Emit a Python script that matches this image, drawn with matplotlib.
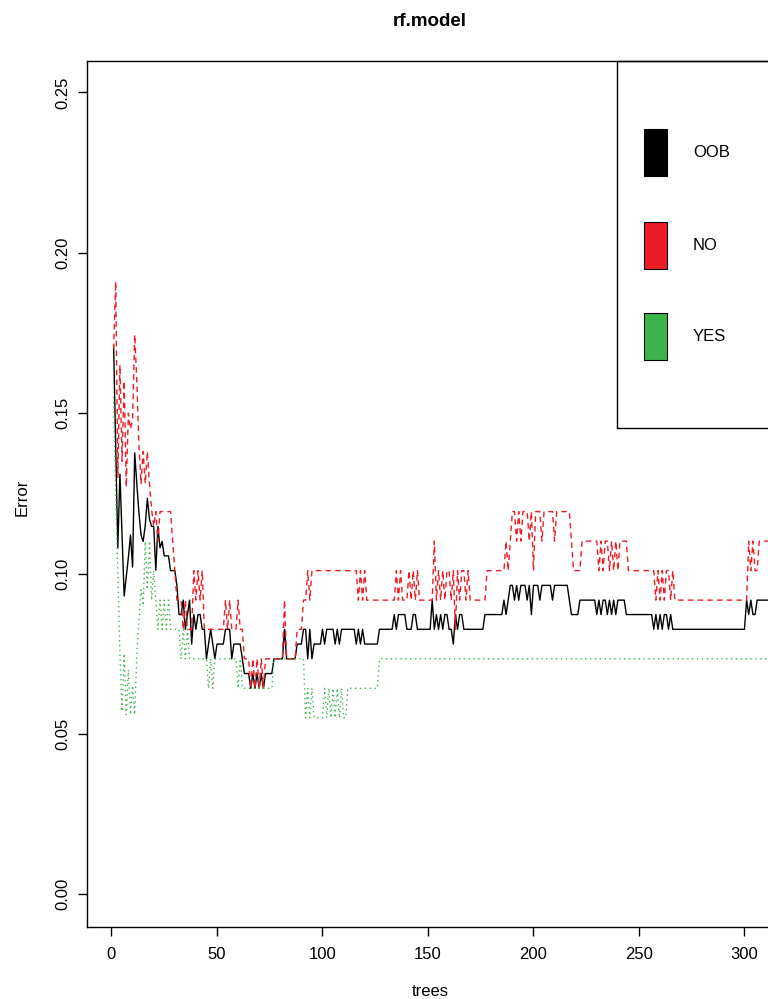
import numpy as np
import matplotlib
matplotlib.use("Agg")
import matplotlib.pyplot as plt
from matplotlib.patches import Rectangle

plt.rcParams['font.family'] = ['Liberation Sans', 'DejaVu Sans']

# error rates, as (value, number of trees) runs
oob_runs = [
    (0.171, 1), (0.140, 1), (0.108, 1), (0.131, 1), (0.112, 1), (0.093, 1),
    (0.099, 1), (0.105, 1), (0.112, 1), (0.102, 1), (0.1376, 1), (0.128, 1),
    (0.119, 1), (0.112, 1), (0.110, 1), (0.115, 1), (0.1235, 1), (0.117, 1),
    (0.1147, 2), (0.101, 1), (0.1147, 1), (0.108, 1), (0.110, 1), (0.1055, 3),
    (0.1009, 3), (0.0963, 1), (0.0872, 2), (0.0917, 1), (0.0826, 1), (0.0872, 1),
    (0.0917, 1), (0.0780, 1), (0.0872, 1), (0.0826, 1), (0.0872, 2), (0.0826, 2),
    (0.0734, 1), (0.0780, 1), (0.0826, 1), (0.0780, 1), (0.0734, 1), (0.0780, 4),
    (0.0826, 3), (0.0734, 1), (0.0780, 4), (0.0734, 1), (0.0688, 3), (0.0642, 1),
    (0.0688, 1), (0.0642, 1), (0.0688, 1), (0.0642, 1), (0.0688, 1), (0.0642, 1),
    (0.0688, 4), (0.0734, 5), (0.0826, 1), (0.0734, 5), (0.0780, 3), (0.0826, 2),
    (0.0734, 1), (0.0826, 1), (0.0734, 1), (0.0780, 4), (0.0826, 1), (0.0780, 1),
    (0.0826, 4), (0.0780, 1), (0.0826, 1), (0.0780, 1), (0.0826, 7), (0.0780, 1),
    (0.0826, 1), (0.0780, 1), (0.0826, 1), (0.0780, 7), (0.0826, 7), (0.0872, 1),
    (0.0826, 1), (0.0872, 4), (0.0826, 3), (0.0872, 2), (0.0826, 7), (0.0917, 1),
    (0.0826, 1), (0.0872, 1), (0.0826, 1), (0.0872, 1), (0.0826, 1), (0.0872, 2),
    (0.0826, 2), (0.0780, 1), (0.0872, 1), (0.0826, 1), (0.0872, 2), (0.0826, 10),
    (0.0872, 9), (0.0917, 1), (0.0872, 1), (0.0917, 1), (0.0963, 2), (0.0917, 1),
    (0.0963, 1), (0.0917, 1), (0.0963, 3), (0.0917, 1), (0.0963, 1), (0.0872, 1),
    (0.0963, 3), (0.0917, 1), (0.0963, 5), (0.0917, 1), (0.0963, 7), (0.0917, 1),
    (0.0872, 4), (0.0917, 8), (0.0872, 1), (0.0917, 1), (0.0872, 1), (0.0917, 2),
    (0.0872, 1), (0.0917, 1), (0.0872, 1), (0.0917, 1), (0.0872, 1), (0.0917, 4),
    (0.0872, 13), (0.0826, 1), (0.0872, 1), (0.0826, 1), (0.0872, 1), (0.0826, 1),
    (0.0872, 2), (0.0826, 1), (0.0872, 1), (0.0826, 35), (0.0917, 1), (0.0872, 1),
    (0.0917, 1), (0.0872, 2), (0.0917, 7),
]

no_runs = [
    (0.170, 1), (0.191, 1), (0.130, 1), (0.165, 1), (0.135, 1), (0.160, 1),
    (0.127, 1), (0.150, 1), (0.145, 1), (0.148, 1), (0.1745, 1), (0.160, 1),
    (0.140, 1), (0.128, 1), (0.138, 1), (0.128, 1), (0.138, 1), (0.128, 1),
    (0.120, 1), (0.1147, 1), (0.1193, 1), (0.1101, 1), (0.1193, 6), (0.1101, 1),
    (0.1009, 1), (0.0917, 3), (0.0826, 1), (0.0917, 1), (0.0826, 3), (0.1009, 1),
    (0.0917, 1), (0.1009, 1), (0.0917, 1), (0.1009, 1), (0.0826, 10), (0.0917, 1),
    (0.0826, 1), (0.0917, 1), (0.0826, 3), (0.0917, 1), (0.0826, 1), (0.0826, 1),
    (0.0734, 3), (0.0642, 1), (0.0734, 1), (0.0642, 1), (0.0734, 1), (0.0642, 1),
    (0.0734, 1), (0.0642, 1), (0.0734, 9), (0.0917, 1), (0.0734, 5), (0.0826, 3),
    (0.0917, 2), (0.1009, 1), (0.0917, 1), (0.1009, 22), (0.0917, 1), (0.1009, 1),
    (0.0917, 1), (0.1009, 1), (0.0917, 7), (0.0917, 7), (0.1009, 1), (0.0917, 1),
    (0.1009, 1), (0.0917, 3), (0.1009, 1), (0.0917, 1), (0.1009, 1), (0.0917, 1),
    (0.1009, 1), (0.0917, 7), (0.1101, 1), (0.0917, 1), (0.1009, 1), (0.0917, 1),
    (0.1009, 1), (0.0917, 1), (0.1009, 2), (0.0917, 1), (0.1009, 1), (0.0826, 1),
    (0.1009, 1), (0.0917, 1), (0.1009, 2), (0.0917, 1), (0.1009, 1), (0.0917, 8),
    (0.1009, 9), (0.1101, 1), (0.1009, 1), (0.1101, 1), (0.1193, 2), (0.1101, 1),
    (0.1193, 1), (0.1101, 1), (0.1193, 3), (0.1101, 1), (0.1193, 1), (0.1009, 1),
    (0.1193, 3), (0.1101, 1), (0.1193, 5), (0.1101, 1), (0.1193, 7), (0.1101, 1),
    (0.1009, 4), (0.1101, 8), (0.1009, 1), (0.1101, 1), (0.1009, 1), (0.1101, 2),
    (0.1009, 1), (0.1101, 1), (0.1009, 1), (0.1101, 1), (0.1009, 1), (0.1101, 4),
    (0.1009, 13), (0.0917, 1), (0.1009, 1), (0.0917, 1), (0.1009, 1), (0.0917, 1),
    (0.1009, 2), (0.0917, 1), (0.1009, 1), (0.0917, 35), (0.1101, 1), (0.1009, 1),
    (0.1101, 1), (0.1009, 2), (0.1101, 7),
]

yes_runs = [
    (0.155, 1), (0.125, 1), (0.100, 1), (0.075, 1), (0.057, 1), (0.075, 1),
    (0.056, 1), (0.070, 1), (0.056, 1), (0.065, 1), (0.056, 1), (0.075, 1),
    (0.085, 1), (0.095, 1), (0.090, 1), (0.110, 1), (0.095, 1), (0.1101, 1),
    (0.0917, 1), (0.1009, 1), (0.0917, 1), (0.0826, 1), (0.0917, 1), (0.0826, 1),
    (0.0917, 1), (0.0826, 1), (0.0917, 1), (0.0826, 5), (0.0734, 1), (0.0826, 1),
    (0.0734, 1), (0.0826, 1), (0.0734, 9), (0.0642, 1), (0.0734, 1), (0.0642, 1),
    (0.0734, 11), (0.0642, 1), (0.0734, 1), (0.0642, 15), (0.0734, 15), (0.0550, 1),
    (0.0642, 1), (0.0550, 1), (0.0642, 1), (0.0550, 5), (0.0642, 1), (0.0550, 1),
    (0.0642, 1), (0.0550, 1), (0.0642, 1), (0.0550, 1), (0.0642, 1), (0.0550, 1),
    (0.0642, 1), (0.0550, 2), (0.0642, 15), (0.0734, 186),
]

series_names = ['OOB', 'NO', 'YES']
series_colors = ['black', '#EE1C25', '#3CB44B']


def expand(runs):
    vals = [v for v, n in runs]
    counts = [n for v, n in runs]
    return np.repeat(vals, counts)


oob = expand(oob_runs)
no = expand(no_runs)
yes = expand(yes_runs)

W, H = 768, 999
fig = plt.figure(figsize=(W / 100, H / 100), dpi=100)
# plot region runs past the right border, as in the cropped original
ax = fig.add_axes([86.7 / W, (H - 926.7) / H, (900 - 86.7) / W, (926.7 - 60.7) / H])

ax.plot(np.arange(1, len(oob) + 1), oob, color=series_colors[0], lw=1.0)
ax.plot(np.arange(1, len(no) + 1), no, color=series_colors[1], lw=1.0,
        dashes=(4, 3))
ax.plot(np.arange(1, len(yes) + 1), yes, color=series_colors[2], lw=1.0,
        dashes=(1, 2.5))

ax.set_xlim(-11.75, 373.7)
ax.set_ylim(-0.01013, 0.2599)
ax.set_xticks([0, 50, 100, 150, 200, 250, 300])
ax.set_yticks([0.0, 0.05, 0.10, 0.15, 0.20, 0.25])
ax.set_yticklabels(['0.00', '0.05', '0.10', '0.15', '0.20', '0.25'],
                   rotation=90, va='center')
ax.tick_params(direction='out', length=6.5, width=1.0, labelsize=12)
ax.tick_params(axis='x', pad=8)
ax.tick_params(axis='y', pad=5)
for s in ax.spines.values():
    s.set_linewidth(1.0)

fig.text(430 / W, 1 - 22 / H, 'rf.model', ha='center', va='center',
         fontsize=13.5, fontweight='bold')
fig.text(430 / W, 1 - 991 / H, 'trees', ha='center', va='center', fontsize=12)
fig.text(22 / W, 1 - 497 / H, 'Error', ha='center', va='center', fontsize=12,
         rotation=90)

# legend box in the top right corner
fig.add_artist(Rectangle((617 / W, 1 - 428 / H), 0.6, (428 - 60.7) / H,
                         transform=fig.transFigure, fill=False, lw=1.0,
                         edgecolor='black'))
box_tops = [129, 222, 313]
for name, col, top in zip(series_names, series_colors, box_tops):
    fig.add_artist(Rectangle((644 / W, 1 - (top + 47) / H), 23 / W, 47 / H,
                             transform=fig.transFigure, facecolor=col,
                             edgecolor='black', lw=0.8))
    fig.text(693 / W, 1 - (top + 23.5) / H, name, ha='left', va='center',
             fontsize=12)

fig.savefig('out.png', dpi=100)
